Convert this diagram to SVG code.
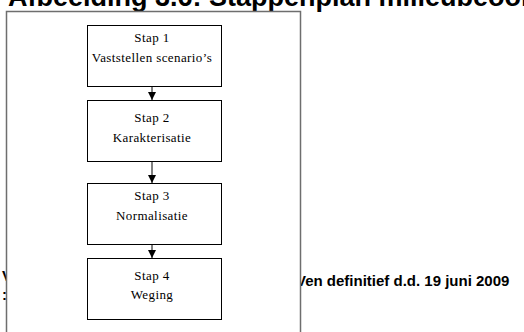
<svg xmlns="http://www.w3.org/2000/svg" width="524" height="332" viewBox="0 0 524 332">
  <style>
    .page { font-family: "Liberation Sans", Arial, sans-serif; font-weight: bold; fill: #000; }
    .frame { fill: #fff; stroke: #6e6e6e; stroke-width: 1.5; }
    .step rect { fill: #fff; stroke: #000; stroke-width: 1; }
    .step text { font-family: "Liberation Serif", "Times New Roman", serif; font-size: 13px; fill: #000; text-anchor: middle; letter-spacing: 0.4px; }
    .conn line { stroke: #000; stroke-width: 1; }
  </style>
  <defs>
    <marker id="arrow" viewBox="0 0 8 8" refX="8" refY="4" markerWidth="8" markerHeight="8" markerUnits="userSpaceOnUse" orient="auto">
      <path d="M0,0 L8,4 L0,8 Z" fill="#000"/>
    </marker>
  </defs>

  <!-- page text running behind the figure frame -->
  <g id="page-text">
    <text class="page" x="8" y="5.5" font-size="27">Afbeelding 3.6: Stappenplan milieubeoordeling</text>
    <text class="page" x="2" y="281" font-size="15">V</text>
    <text class="page" x="2" y="300" font-size="15">:</text>
    <text class="page" x="296" y="286" font-size="15">Ven definitief d.d. 19 juni 2009</text>
  </g>

  <!-- figure frame -->
  <rect class="frame" x="6.5" y="11.5" width="294" height="340"/>

  <!-- connectors -->
  <g id="connectors" class="conn">
    <line x1="152" y1="87" x2="152" y2="100" marker-end="url(#arrow)"/>
    <line x1="152" y1="162" x2="152" y2="183" marker-end="url(#arrow)"/>
    <line x1="152" y1="244" x2="152" y2="258" marker-end="url(#arrow)"/>
  </g>

  <!-- steps -->
  <g id="stap1" class="step">
    <rect x="87.5" y="25.5" width="134" height="61"/>
    <text x="152" y="41.5">Stap 1</text>
    <text x="152" y="61.5">Vaststellen scenario’s</text>
  </g>
  <g id="stap2" class="step">
    <rect x="87.5" y="100.5" width="134" height="61"/>
    <text x="152" y="121.5">Stap 2</text>
    <text x="152" y="141.5">Karakterisatie</text>
  </g>
  <g id="stap3" class="step">
    <rect x="87.5" y="183.5" width="134" height="61"/>
    <text x="152" y="200">Stap 3</text>
    <text x="152" y="220">Normalisatie</text>
  </g>
  <g id="stap4" class="step">
    <rect x="87.5" y="258.5" width="134" height="61"/>
    <text x="152" y="280">Stap 4</text>
    <text x="152" y="299">Weging</text>
  </g>
</svg>
